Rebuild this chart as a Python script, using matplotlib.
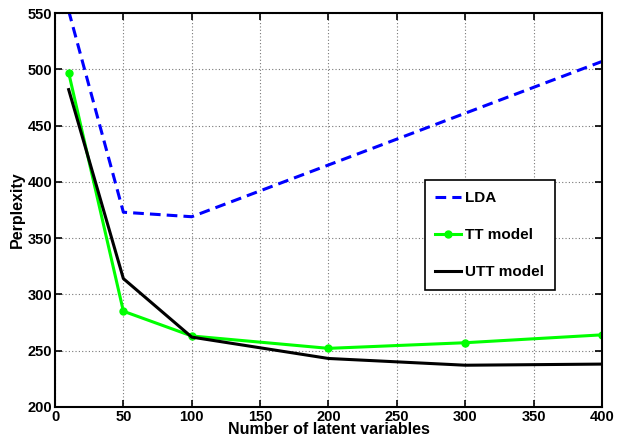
import matplotlib.pyplot as plt

plt.rcParams['font.family'] = ['Liberation Sans', 'DejaVu Sans']
plt.rcParams['font.weight'] = 'bold'

# latent variable counts
x = [10, 50, 100, 200, 300, 400]
lda = [552, 373, 369, 415, 461, 507]
tt = [497, 285, 263, 252, 257, 264]
utt = [482, 314, 262, 243, 237, 238]

fig = plt.figure(figsize=(6.18, 4.37), dpi=100)
ax = fig.add_axes([0.089, 0.069, 0.885, 0.901])

ax.plot(x, lda, color='#0000ff', linestyle='--', linewidth=2.2, dashes=(3.5, 2), label='LDA')
ax.plot(x, tt, color='#00ff00', linewidth=2.2, marker='o', markersize=5, label='TT model')
ax.plot(x, utt, color='black', linewidth=2.2, label='UTT model')

ax.set_xlim(0, 400)
ax.set_ylim(200, 550)
ax.set_xticks(range(0, 401, 50))
ax.set_yticks(range(200, 551, 50))
ax.grid(True, linestyle=(0, (1, 2)), color='#777777', linewidth=0.8)
ax.tick_params(direction='in', top=True, right=True, labelsize=10.5, length=5, width=1.2, pad=2)
for s in ax.spines.values():
    s.set_linewidth(1.5)

ax.set_xlabel('Number of latent variables', fontsize=11.5, fontweight='bold', labelpad=-1)
ax.set_ylabel('Perplexity', fontsize=11.5, fontweight='bold', labelpad=2)

leg = ax.legend(loc='upper left', bbox_to_anchor=(0.676, 0.575), fontsize=11,
                fancybox=False, edgecolor='black', framealpha=1,
                handlelength=1.7, handletextpad=0.25, labelspacing=1.5, borderpad=0.7,
                borderaxespad=0)
leg.get_frame().set_linewidth(1.2)

fig.savefig('out.png', dpi=100)
